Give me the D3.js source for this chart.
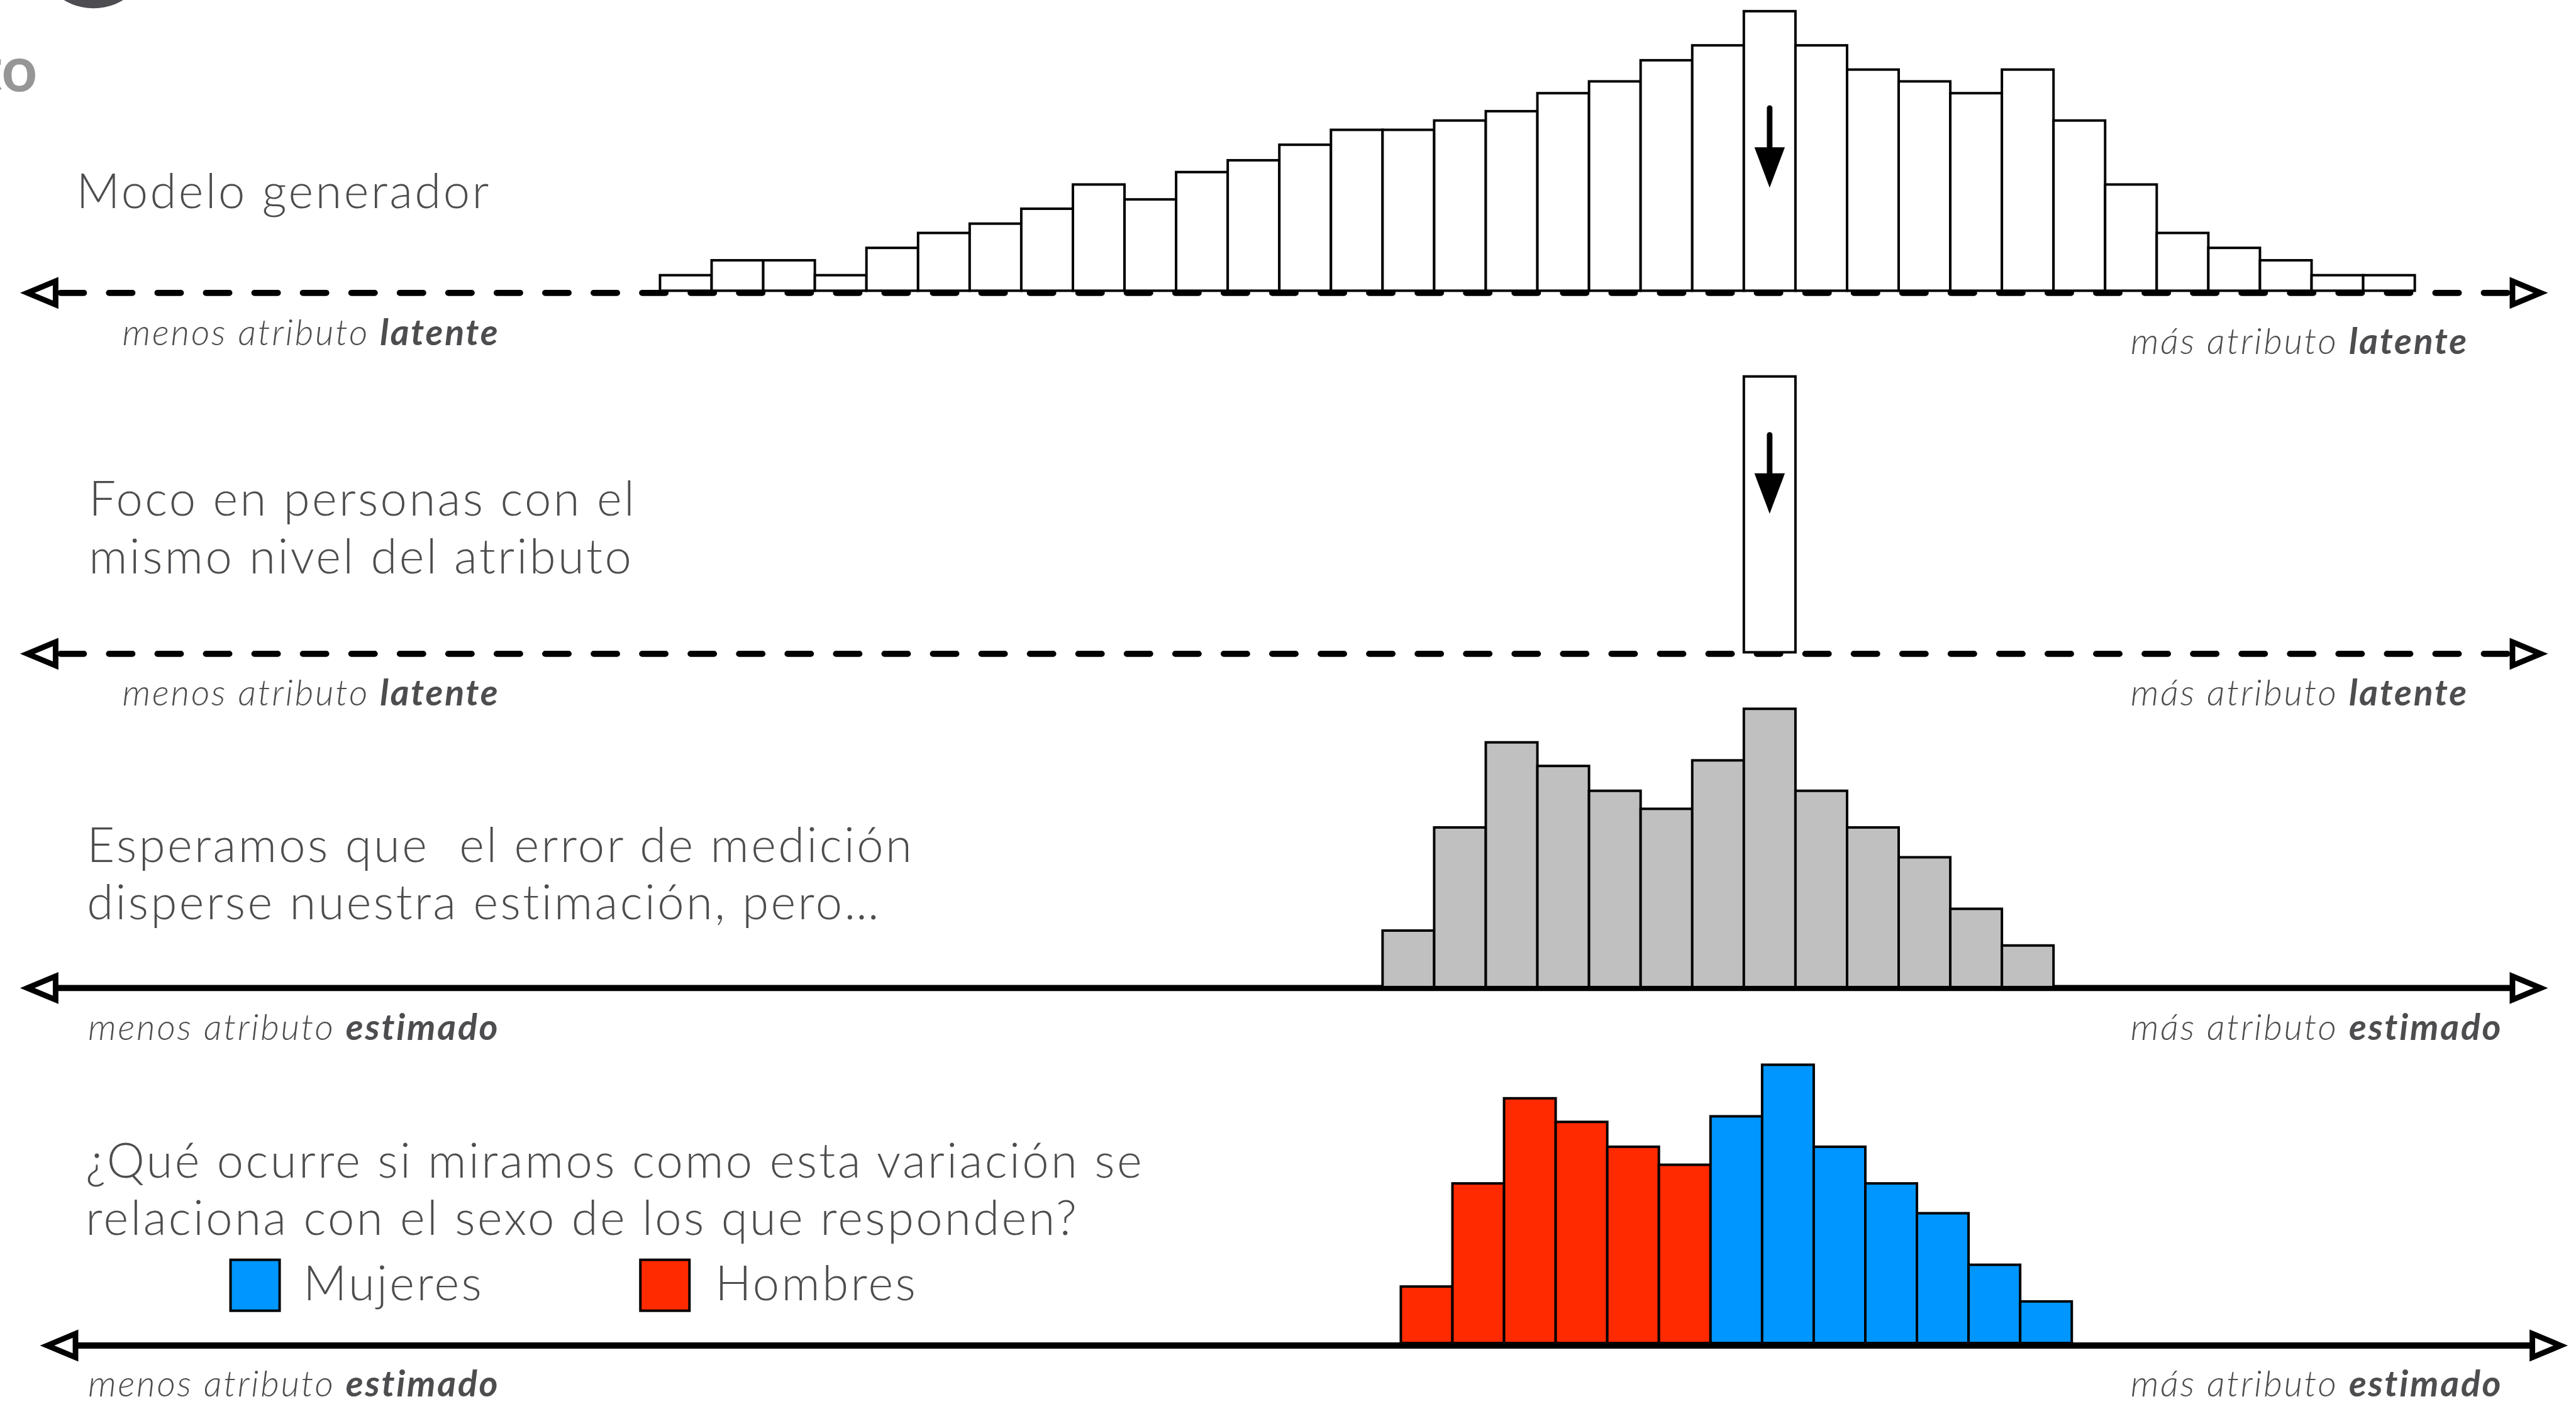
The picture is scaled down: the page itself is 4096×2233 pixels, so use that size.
<!DOCTYPE html>
<html>
<head>
<meta charset="utf-8">
<script src="https://cdn.jsdelivr.net/npm/d3@7"></script>
<style>
  html, body { margin: 0; padding: 0; background: #fff; overflow: hidden; }
  text { font-family: Lato, "Open Sans", sans-serif; fill: #4d4d50; }
</style>
</head>
<body>
<div id="chart"></div>
<script>
// ---- datos ----
const nBins = 34;
const modeloGenerador = [25, 49, 49, 25, 69, 93, 108, 132, 171, 147, 191, 210, 235, 259, 259, 274, 289,
                         318, 337, 371, 395, 450, 395, 356, 337, 318, 356, 274, 171, 93, 69, 49, 25, 25];
const binFoco = 21;
const focoValor = 444;
const binInicioEstimado = 14;
const estimado = [91, 257, 394, 356, 316, 287, 365, 448, 316, 257, 209, 126, 67];
const sexo = ["Hombres", "Hombres", "Hombres", "Hombres", "Hombres", "Hombres",
              "Mujeres", "Mujeres", "Mujeres", "Mujeres", "Mujeres", "Mujeres", "Mujeres"];
const grupos = ["Mujeres", "Hombres"];
const colores = ["#0096ff", "#ff2a00"];

const titulos = [
  ["Modelo generador"],
  ["Foco en personas con el", "mismo nivel del atributo"],
  ["Esperamos que  el error de medición", "disperse nuestra estimación, pero…"],
  ["¿Qué ocurre si miramos como esta variación se", "relaciona con el sexo de los que responden?"]
];
const etiquetasEje = [
  ["menos atributo ", "latente", "más atributo ", "latente"],
  ["menos atributo ", "latente", "más atributo ", "latente"],
  ["menos atributo ", "estimado", "más atributo ", "estimado"],
  ["menos atributo ", "estimado", "más atributo ", "estimado"]
];

// ---- layout (coordenadas de la referencia, luego escala 0.988) ----
const W = 4144, H = 2259, S = 0.988;
const paneles = [
  { tx: 123, ty: [335], eje: 471.5, base: 468, dash: true, l: 31, r: 4102, dx: 0, lyL: 556, lyR: 570 },
  { tx: 143, ty: [830, 922.7], eje: 1052.5, base: 1050, dash: true, l: 31, r: 4102, dx: 0, lyL: 1136, lyR: 1136 },
  { tx: 140, ty: [1387.5, 1480], eje: 1590.5, base: 1589, dash: false, l: 31, r: 4102, dx: 0, lyL: 1674, lyR: 1674 },
  { tx: 138, ty: [1895.7, 1988.3], eje: 2166, base: 2162, dash: false, l: 63, r: 4134, dx: 29.4, lyL: 2248, lyR: 2248 }
];

const svg = d3.select("#chart").append("svg")
  .attr("width", W * S).attr("height", H * S);
const g = svg.append("g").attr("transform", `scale(${S})`);

const x = d3.scaleLinear().domain([0, nBins]).range([1062.2, 3886.3]);
const bw = x(1) - x(0);
const yFor = p => d3.scaleLinear().domain([0, 450]).range([p.base, p.base - 450]);

// fragmentos de la diapositiva original (arriba a la izquierda)
g.append("circle").attr("cx", 150.5).attr("cy", -78).attr("r", 91.5).attr("fill", "#4c4c51");
g.append("text").attr("x", 60).attr("y", 147).attr("text-anchor", "end")
  .style("font-size", "100px").style("font-weight", 700).style("fill", "#969696").text("to");

// eje con flechas abiertas
function eje(p) {
  const len = 63, tipIn = 13, baseIn = 4.5, hh = 19;
  const xl0 = p.l + tipIn, xl1 = p.l + len - baseIn;
  const xr0 = p.r - tipIn, xr1 = p.r - len + baseIn;
  g.append("line")
    .attr("x1", xl1).attr("x2", xr1).attr("y1", p.eje).attr("y2", p.eje)
    .attr("stroke", "#000").attr("stroke-width", 10)
    .attr("stroke-linecap", p.dash ? "round" : "butt")
    .attr("stroke-dasharray", p.dash ? "37.5 40.5" : null)
    .attr("stroke-dashoffset", p.dash ? -8 : null);
  [[xl0, xl1], [xr0, xr1]].forEach(([t, b]) => {
    g.append("path")
      .attr("d", `M${t},${p.eje} L${b},${p.eje - hh} L${b},${p.eje + hh} Z`)
      .attr("fill", "#fff").attr("stroke", "#000").attr("stroke-width", 9)
      .attr("stroke-linejoin", "miter");
  });
}

function flechaAbajo(cx, top, headBase, tip) {
  g.append("line").attr("x1", cx).attr("x2", cx).attr("y1", top).attr("y2", headBase + 2)
    .attr("stroke", "#000").attr("stroke-width", 9).attr("stroke-linecap", "round");
  g.append("path")
    .attr("d", `M${cx - 24.5},${headBase} L${cx + 24.5},${headBase} L${cx},${tip} Z`)
    .attr("fill", "#000");
}

function textos(p, i) {
  titulos[i].forEach((t, k) => {
    g.append("text").attr("x", p.tx).attr("y", p.ty[k])
      .style("font-size", "77px").style("font-weight", 300).style("white-space", "pre")
      .style("letter-spacing", "3.4px")
      .text(t);
  });
  const e = etiquetasEje[i];
  const tl = g.append("text").attr("x", 804).attr("y", p.lyL).attr("text-anchor", "end")
    .style("font-size", "58px").style("font-style", "italic").style("font-weight", 300)
    .style("letter-spacing", "2.8px").style("white-space", "pre");
  tl.append("tspan").text(e[0]);
  tl.append("tspan").style("font-weight", 700).text(e[1]);
  const tr = g.append("text").attr("x", 3429).attr("y", p.lyR)
    .style("font-size", "58px").style("font-style", "italic").style("font-weight", 300)
    .style("letter-spacing", "2.8px").style("white-space", "pre");
  tr.append("tspan").text(e[2]);
  tr.append("tspan").style("font-weight", 700).text(e[3]);
}

paneles.forEach((p, i) => textos(p, i));

// panel 1: modelo generador
{
  const p = paneles[0], y = yFor(p);
  eje(p);
  g.append("g").selectAll("rect").data(modeloGenerador).join("rect")
    .attr("x", (d, i) => x(i)).attr("width", bw)
    .attr("y", d => y(d)).attr("height", d => y(0) - y(d))
    .attr("fill", "#fff").attr("stroke", "#000").attr("stroke-width", 4);
  const cx = x(binFoco) + bw / 2;
  flechaAbajo(cx, 174, 237, 302);
}

// panel 2: foco
{
  const p = paneles[1], y = yFor(p);
  eje(p);
  g.append("rect").datum(focoValor)
    .attr("x", x(binFoco)).attr("width", bw)
    .attr("y", d => y(d)).attr("height", d => y(0) - y(d))
    .attr("fill", "#fff").attr("stroke", "#000").attr("stroke-width", 4);
  const cx = x(binFoco) + bw / 2;
  flechaAbajo(cx, 700, 762, 827);
}

// panel 3: estimado
{
  const p = paneles[2], y = yFor(p);
  eje(p);
  g.append("g").selectAll("rect").data(estimado).join("rect")
    .attr("x", (d, i) => x(binInicioEstimado + i)).attr("width", bw)
    .attr("y", d => y(d)).attr("height", d => y(0) - y(d))
    .attr("fill", "#c0c0c0").attr("stroke", "#000").attr("stroke-width", 4);
}

// panel 4: por sexo
{
  const p = paneles[3], y = yFor(p);
  const color = d3.scaleOrdinal().domain(grupos).range(colores);
  g.append("g").selectAll("rect").data(estimado).join("rect")
    .attr("x", (d, i) => x(binInicioEstimado + i) + p.dx).attr("width", bw)
    .attr("y", d => y(d)).attr("height", d => y(0) - y(d))
    .attr("fill", (d, i) => color(sexo[i])).attr("stroke", "#000").attr("stroke-width", 4);
  eje(p);

  // leyenda
  const leg = [{ bx: 371, tx: 488 }, { bx: 1030.6, tx: 1151 }];
  grupos.forEach((gr, k) => {
    g.append("rect").attr("x", leg[k].bx).attr("y", 2028).attr("width", 79).attr("height", 82)
      .attr("fill", color(gr)).attr("stroke", "#000").attr("stroke-width", 4);
    g.append("text").attr("x", leg[k].tx).attr("y", 2093)
      .style("font-size", "77px").style("font-weight", 300).style("letter-spacing", "3.4px").text(gr);
  });
}
</script>
</body>
</html>
